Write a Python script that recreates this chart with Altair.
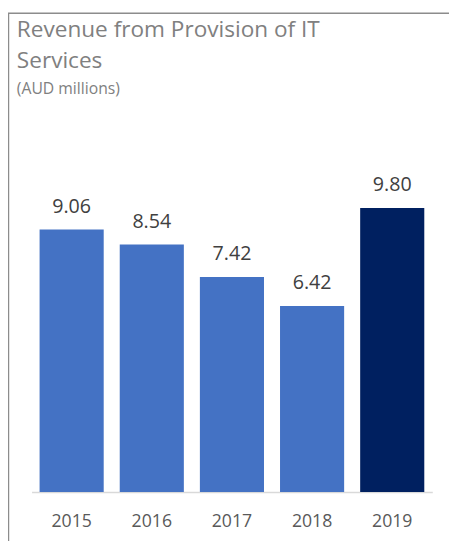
import altair as alt
import pandas as pd

years = ["2015", "2016", "2017", "2018", "2019"]
revenue = [9.06, 8.54, 7.42, 6.42, 9.80]
highlight = ["base", "base", "base", "base", "latest"]

df = pd.DataFrame({"year": years, "revenue": revenue, "kind": highlight})

FONT = "Open Sans"

x = alt.X(
    "year:N",
    sort=years,
    title=None,
    scale=alt.Scale(paddingInner=0.2, paddingOuter=0.1),
    axis=alt.Axis(
        labelAngle=0,
        ticks=False,
        tickSize=0,
        domainColor="#d9d9d9",
        domainWidth=1.5,
        labelColor="#595959",
        labelFont=FONT,
        labelFontSize=18,
        labelPadding=21,
    ),
)
y = alt.Y("revenue:Q", scale=alt.Scale(domain=[0, 12]), axis=None)

frame = alt.Chart(pd.DataFrame({"a": [1]})).mark_rect(
    fillOpacity=0, stroke="#8c8c8c", strokeWidth=1.5
).encode(
    x=alt.value(-23.5), x2=alt.value(600), y=alt.value(-133.5), y2=alt.value(700)
)

bars = alt.Chart(df).mark_bar().encode(
    x=x,
    y=y,
    color=alt.Color(
        "kind:N",
        scale=alt.Scale(domain=["base", "latest"], range=["#4472C4", "#002060"]),
        legend=None,
    ),
)

labels = alt.Chart(df).mark_text(
    baseline="alphabetic", dy=-17, font=FONT, fontSize=20, color="#404040"
).encode(x=x, y=y, text=alt.Text("revenue:Q", format=".2f"))

chart = alt.layer(frame, bars, labels).properties(
    width=408,
    height=354,
    autosize=alt.AutoSizeParams(type="none"),
    padding={"left": 24, "top": 134, "right": 17, "bottom": 45},
    title=alt.TitleParams(
        text=["Revenue from Provision of IT", "Services"],
        subtitle="(AUD millions)",
        anchor="start",
        frame="group",
        dx=-15,
        offset=-86,
        font=FONT,
        fontSize=23,
        fontWeight="normal",
        color="#808080",
        lineHeight=32,
        subtitleFont=FONT,
        subtitleFontSize=16,
        subtitleColor="#808080",
        subtitlePadding=8,
    ),
).configure_view(stroke=None)

chart.save("out.html", embed_options={"renderer": "svg", "actions": False})
